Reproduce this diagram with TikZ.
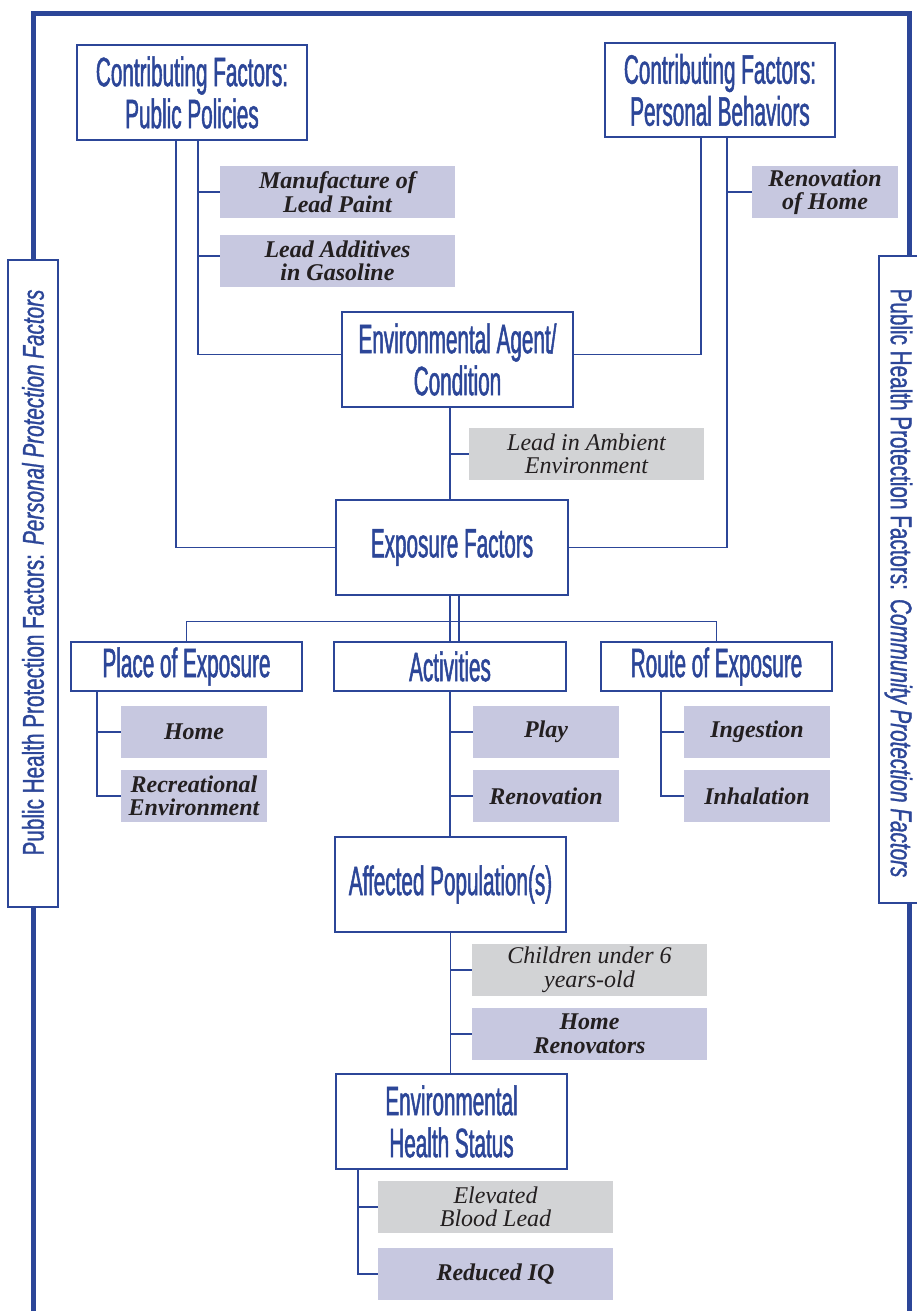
\documentclass[tikz,border=0pt]{standalone}
\usepackage{fontspec}
\newfontfamily\hfont[FakeStretch=0.505,FakeBold=1.2]{Liberation Sans}
\newfontfamily\sidefont[FakeStretch=0.69,FakeBold=1]{Liberation Sans}
\newfontfamily\serfont{Liberation Serif}
\definecolor{myblue}{RGB}{44,70,152}
\definecolor{lav}{RGB}{199,200,224}
\definecolor{lgray}{RGB}{210,211,213}
\definecolor{dark}{RGB}{35,31,32}
\tikzset{
  hbox/.style={draw=myblue, line width=1.3pt, fill=white, inner sep=0pt, text=myblue, align=center,
    font=\hfont\fontsize{41}{42}\selectfont},
  lbox/.style={fill=lav, inner sep=0pt, text=dark, align=center, minimum height=52pt,
    font=\serfont\bfseries\itshape\fontsize{24}{23.5}\selectfont},
  gbox/.style={fill=lgray, inner sep=0pt, text=dark, align=center, minimum height=52pt,
    font=\serfont\itshape\fontsize{24}{23.5}\selectfont},
  sidebox/.style={draw=myblue, line width=1.3pt, fill=white, inner sep=0pt, minimum height=50pt},
  sidetext/.style={inner sep=0pt, text=myblue, font=\sidefont\fontsize{30}{32}\selectfont},
  conn/.style={draw=myblue, line width=1.3pt},
  frame/.style={draw=myblue, line width=5pt}
}
\begin{document}
\begin{tikzpicture}[x=1pt,y=-1pt]
\useasboundingbox (0,0) rectangle (917,1311);
\clip (0,0) rectangle (917,1311);
% outer frame
\coordinate (fbl) at (33,1330);
\coordinate (ftl) at (33,14);
\coordinate (ftr) at (909,14);
\coordinate (fbr) at (909,1330);
\draw[frame] (fbl) -- (ftl) -- (ftr) -- (fbr);
% side boxes
\node[sidebox, rotate=90, minimum width=647pt] (lside) at (33,583.5) {};
\node[sidetext, rotate=90] (ltext) at (33,572.5)
  {Public Health Protection Factors:\hspace{9pt}\textit{Personal Protection Factors}};
\node[sidebox, rotate=-90, minimum width=647pt] (rside) at (904,579.5) {};
\node[sidetext, rotate=-90] (rtext) at (898.5,583)
  {Public Health Protection Factors:\hspace{9pt}\textit{Community Protection Factors}};
% main boxes
\node[hbox, minimum width=230pt, minimum height=95pt] (pp) at (192,92.5) {Contributing Factors:\\Public Policies};
\node[hbox, minimum width=230pt, minimum height=94pt] (pb) at (720,90) {Contributing Factors:\\Personal Behaviors};
\node[hbox, minimum width=231pt, minimum height=95pt] (env) at (457.5,359.5) {Environmental Agent/\\Condition};
\node[hbox, minimum width=232pt, minimum height=95pt] (exf) at (452,547.5) {Exposure Factors};
\node[hbox, minimum width=231pt, minimum height=49pt] (poe) at (186.5,666.5) {Place of Exposure};
\node[hbox, minimum width=232pt, minimum height=49pt] (act) at (450,666.5) {Activities};
\node[hbox, minimum width=231pt, minimum height=49pt] (roe) at (716.5,666.5) {Route of Exposure};
\node[hbox, minimum width=231pt, minimum height=95pt] (aff) at (450.5,884.5) {Affected Population(s)};
\node[hbox, minimum width=231pt, minimum height=95pt] (ehs) at (451.5,1121.5) {Environmental\\Health Status};
% leaf boxes
\node[lbox, minimum width=235pt] (mlp) at (337.5,192) {Manufacture of\\Lead Paint};
\node[lbox, minimum width=235pt] (lag) at (337.5,261) {Lead Additives\\in Gasoline};
\node[lbox, minimum width=146pt] (roh) at (825,192) {Renovation\\of Home};
\node[gbox, minimum width=235pt] (lia) at (586.5,454) {Lead in Ambient\\Environment};
\node[lbox, minimum width=146pt] (home) at (194,732) {Home};
\node[lbox, minimum width=146pt] (rec) at (194,796) {Recreational\\Environment};
\node[lbox, minimum width=146pt] (play) at (546,732) {Play};
\node[lbox, minimum width=146pt] (renov) at (546,796) {Renovation};
\node[lbox, minimum width=146pt] (ing) at (757,732) {Ingestion};
\node[lbox, minimum width=146pt] (inh) at (757,796) {Inhalation};
\node[gbox, minimum width=235pt] (chi) at (589.5,970) {Children under 6\\years-old};
\node[lbox, minimum width=235pt] (hr) at (589.5,1034) {Home\\Renovators};
\node[gbox, minimum width=235pt] (ebl) at (495.5,1207) {Elevated\\Blood Lead};
\node[lbox, minimum width=235pt] (riq) at (495.5,1274) {Reduced IQ};
% connectors: public policies
\coordinate (ppL) at ([xshift=-16pt]pp.south);
\coordinate (ppR) at ([xshift=6pt]pp.south);
\draw[conn] (ppL) |- (exf.west);
\draw[conn] (ppR) |- ([yshift=5pt]env.west);
\draw[conn] (mlp.west) -- (mlp.west -| ppR);
\draw[conn] ([yshift=5pt]lag.west) -- ([yshift=5pt]lag.west -| ppR);
% personal behaviors
\coordinate (pbL) at ([xshift=-19pt]pb.south);
\coordinate (pbR) at ([xshift=7pt]pb.south);
\draw[conn] (pbL) |- ([yshift=5pt]env.east);
\draw[conn] (pbR) |- (exf.east);
\draw[conn] (roh.west) -- (roh.west -| pbR);
% env -> exposure
\coordinate (envB) at ([xshift=-7.5pt]env.south);
\draw[conn] (envB) -- (envB |- exf.north);
\draw[conn] (lia.west) -- (lia.west -| envB);
% exposure -> three
\draw[conn] (act.north) -- (act.north |- exf.south);
\draw[conn] ([xshift=9pt]act.north) -- ([xshift=9pt]act.north |- exf.south);
\draw[conn] (poe.north) -- ++(0,-20) -| (roe.north);
% place children
\coordinate (poeB) at ([xshift=-89.5pt]poe.south);
\draw[conn] (poeB) |- (rec.west);
\draw[conn] (home.west) -- (home.west -| poeB);
% activities children
\draw[conn] (act.south) -- (act.south |- aff.north);
\draw[conn] (play.west) -- (play.west -| act.south);
\draw[conn] (renov.west) -- (renov.west -| act.south);
% route children
\coordinate (roeB) at ([xshift=-55.5pt]roe.south);
\draw[conn] (roeB) |- (inh.west);
\draw[conn] (ing.west) -- (ing.west -| roeB);
% affected -> health status
\draw[conn] (aff.south) -- (aff.south |- ehs.north);
\draw[conn] (chi.west) -- (chi.west -| aff.south);
\draw[conn] (hr.west) -- (hr.west -| aff.south);
% health status children
\coordinate (ehsB) at ([xshift=-93.5pt]ehs.south);
\draw[conn] (ehsB) |- (riq.west);
\draw[conn] (ebl.west) -- (ebl.west -| ehsB);
\end{tikzpicture}
\end{document}
